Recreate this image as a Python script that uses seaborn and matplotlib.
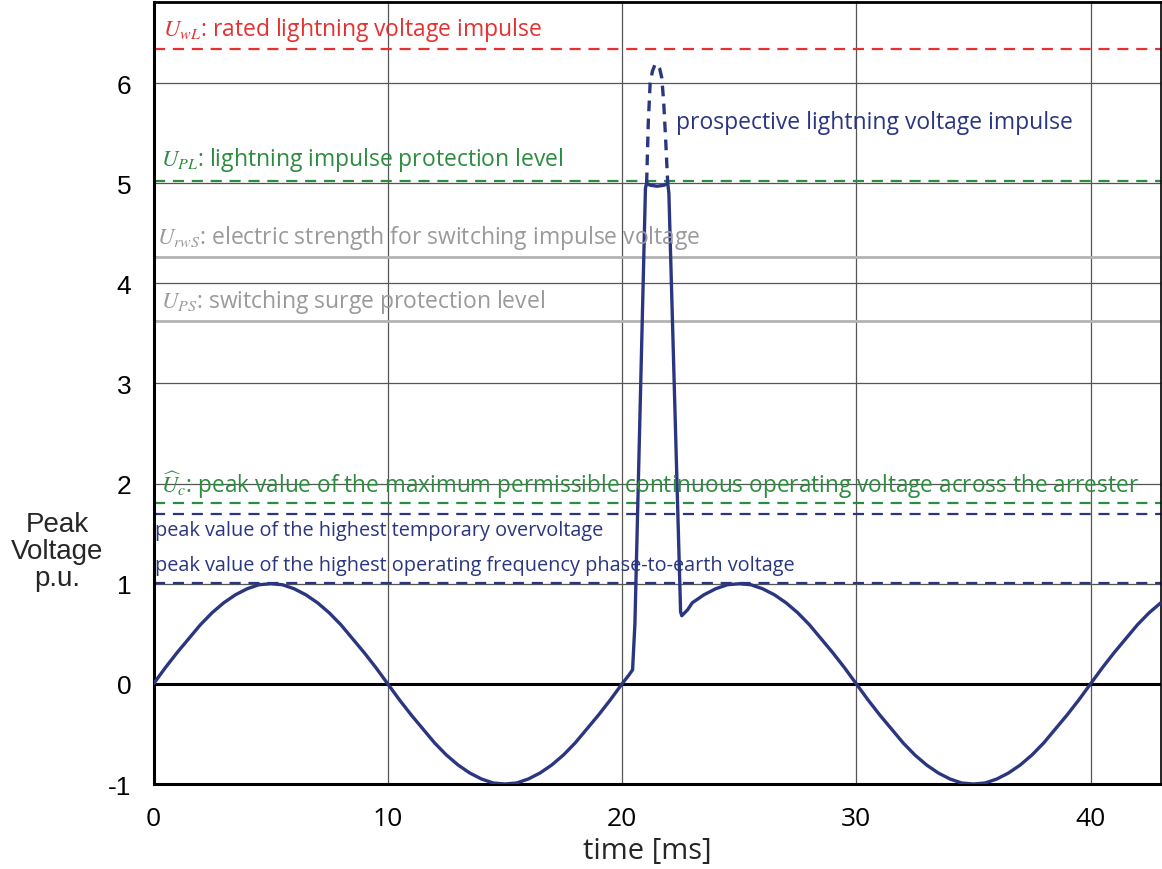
import numpy as np
import pandas as pd
import matplotlib
matplotlib.use("Agg")
import matplotlib.pyplot as plt
import seaborn as sns

# ---- data ----
# measured (limited) voltage waveform, time in ms, voltage in p.u.
wave_t = [0, 0.5, 1, 1.5, 2, 2.5, 3, 3.5, 4, 4.5, 5, 5.5, 6, 6.5, 7, 7.5, 8, 8.5, 9, 9.5,
          10, 10.5, 11, 11.5, 12, 12.5, 13, 13.5, 14, 14.5, 15, 15.5, 16, 16.5, 17, 17.5,
          18, 18.5, 19, 19.5, 20,
          20.3, 20.45, 20.55, 21.0, 21.05, 21.2, 21.5, 21.8, 21.95, 22.0, 22.5, 22.55,
          22.8, 23, 23.5, 24, 24.5, 25, 25.5, 26, 26.5, 27, 27.5, 28, 28.5, 29, 29.5,
          30, 30.5, 31, 31.5, 32, 32.5, 33, 33.5, 34, 34.5, 35, 35.5, 36, 36.5, 37, 37.5,
          38, 38.5, 39, 39.5, 40, 40.5, 41, 41.5, 42, 42.5, 43]
wave_v = [0, 0.16, 0.31, 0.45, 0.59, 0.71, 0.81, 0.89, 0.95, 0.99, 1.0, 0.99, 0.95, 0.89,
          0.81, 0.71, 0.59, 0.45, 0.31, 0.16,
          0, -0.16, -0.31, -0.45, -0.59, -0.71, -0.81, -0.89, -0.95, -0.99, -1.0, -0.99,
          -0.95, -0.89, -0.81, -0.71, -0.59, -0.45, -0.31, -0.16, 0,
          0.09, 0.14, 0.6, 4.95, 5.0, 4.98, 4.97, 4.98, 5.0, 4.9, 0.72, 0.68,
          0.74, 0.81, 0.89, 0.95, 0.99, 1.0, 0.99, 0.95, 0.89, 0.81, 0.71, 0.59, 0.45,
          0.31, 0.16,
          0, -0.16, -0.31, -0.45, -0.59, -0.71, -0.81, -0.89, -0.95, -0.99, -1.0, -0.99,
          -0.95, -0.89, -0.81, -0.71, -0.59, -0.45, -0.31, -0.16, 0, 0.16, 0.31, 0.45,
          0.59, 0.71, 0.81]
# prospective (unlimited) lightning impulse, dashed
prosp_t = [21.05, 21.12, 21.2, 21.3, 21.4, 21.5, 21.6, 21.7, 21.78, 21.87, 21.95]
prosp_v = [5.0, 5.6, 6.0, 6.12, 6.18, 6.19, 6.15, 6.05, 5.8, 5.4, 5.0]

# reference levels (p.u.)
level_names = ["UwL", "UPL", "UrwS", "UPS", "Uc", "TOV", "Us"]
level_values = [6.34, 5.02, 4.26, 3.62, 1.81, 1.70, 1.01]

labels = [
    r"$U_{wL}$: rated lightning voltage impulse",
    "prospective lightning voltage impulse",
    r"$U_{PL}$: lightning impulse protection level",
    r"$U_{rwS}$: electric strength for switching impulse voltage",
    r"$U_{PS}$: switching surge protection level",
    r"$\widehat{U}_{c}$: peak value of the maximum permissible continuous operating voltage across the arrester",
    "peak value of the highest temporary overvoltage",
    "peak value of the highest operating frequency phase-to-earth voltage",
]
label_x = [0.4, 22.3, 0.3, 0.15, 0.3, 0.3, 0.05, 0.05]
label_y = [6.54, 5.61, 5.24, 4.46, 3.82, 1.99, 1.54, 1.19]

x_ticks = [0, 10, 20, 30, 40]
y_ticks = [-1, 0, 1, 2, 3, 4, 5, 6]

# ---- style ----
RED = "#e5312f"
GREEN = "#2c8c3f"
GRAY_LINE = "#b3b3b3"
GRAY_TEXT = "#9a9a9a"
BLUE = "#2b3680"

sns.set_style("white")
plt.rcParams["font.family"] = ["Liberation Sans", "DejaVu Sans"]
plt.rcParams["mathtext.fontset"] = "stix"
plt.rcParams["axes.unicode_minus"] = False

fig = plt.figure(figsize=(11.62, 8.70), dpi=100)
ax = fig.add_axes([0.1321, 0.0977, 0.8669, 0.8989])
ax.set_xlim(0, 43)
ax.set_ylim(-1, 6.81)

# grid
for xv in x_ticks:
    ax.axvline(xv, color="#555555", lw=0.9, zorder=0)
for yv in y_ticks:
    ax.axhline(yv, color="#555555", lw=0.9, zorder=0)
ax.axhline(0, color="black", lw=2.2, zorder=1)

# reference levels
dash = (5, 3.5)
level_style = {
    "UwL": dict(color=RED, ls="--", dashes=dash, lw=1.6),
    "UPL": dict(color=GREEN, ls="--", dashes=dash, lw=1.6),
    "UrwS": dict(color=GRAY_LINE, ls="-", lw=2.0),
    "UPS": dict(color=GRAY_LINE, ls="-", lw=2.0),
    "Uc": dict(color=GREEN, ls="--", dashes=dash, lw=1.6),
    "TOV": dict(color=BLUE, ls="--", dashes=dash, lw=1.6),
    "Us": dict(color=BLUE, ls="--", dashes=dash, lw=1.6),
}
for name, val in zip(level_names, level_values):
    st = level_style[name]
    ax.axhline(val, zorder=2, **st)

# waveforms
wave = pd.DataFrame({"t": wave_t, "v": wave_v})
prosp = pd.DataFrame({"t": prosp_t, "v": prosp_v})
sns.lineplot(data=wave, x="t", y="v", sort=False, estimator=None, color=BLUE,
             lw=2.4, ax=ax, zorder=4)
sns.lineplot(data=prosp, x="t", y="v", sort=False, estimator=None, color=BLUE,
             lw=2.4, ax=ax, zorder=4, linestyle=(0, (3.2, 2.2)))

# labels
label_colors = [RED, BLUE, GREEN, GRAY_TEXT, GRAY_TEXT, GREEN, BLUE, BLUE]
label_sizes = [16.5, 16.5, 16.5, 16.5, 16.5, 16.3, 14.3, 14.3]
for txt, xv, yv, c, s in zip(labels, label_x, label_y, label_colors, label_sizes):
    ax.text(xv, yv, txt, color=c, fontsize=s, va="center", ha="left",
            family=["Open Sans", "DejaVu Sans"], zorder=5)

ax.set_xticks(x_ticks)
ax.set_yticks(y_ticks)
ax.tick_params(axis="both", length=0, colors="black")
ax.tick_params(axis="y", pad=16, labelsize=19)
ax.tick_params(axis="x", pad=16, labelsize=19)
for lab in ax.get_xticklabels():
    lab.set_family(["Open Sans", "DejaVu Sans"])
ax.set_xlabel("time [ms]", fontsize=21, family=["Open Sans", "DejaVu Sans"],
              va="center")
ax.xaxis.set_label_coords(0.49, -0.085)
ax.set_ylabel("Peak\nVoltage\np.u.", fontsize=20, rotation=0, ha="center", va="center",
              linespacing=1.05)
ax.yaxis.set_label_coords(-0.0958, 0.298)

for side in ["left", "bottom", "top", "right"]:
    ax.spines[side].set_visible(True)
    ax.spines[side].set_color("black")
ax.spines["left"].set_linewidth(2.2)
ax.spines["bottom"].set_linewidth(2.2)
ax.spines["top"].set_linewidth(2.0)
ax.spines["right"].set_linewidth(1.2)

fig.savefig("out.png", dpi=100)
